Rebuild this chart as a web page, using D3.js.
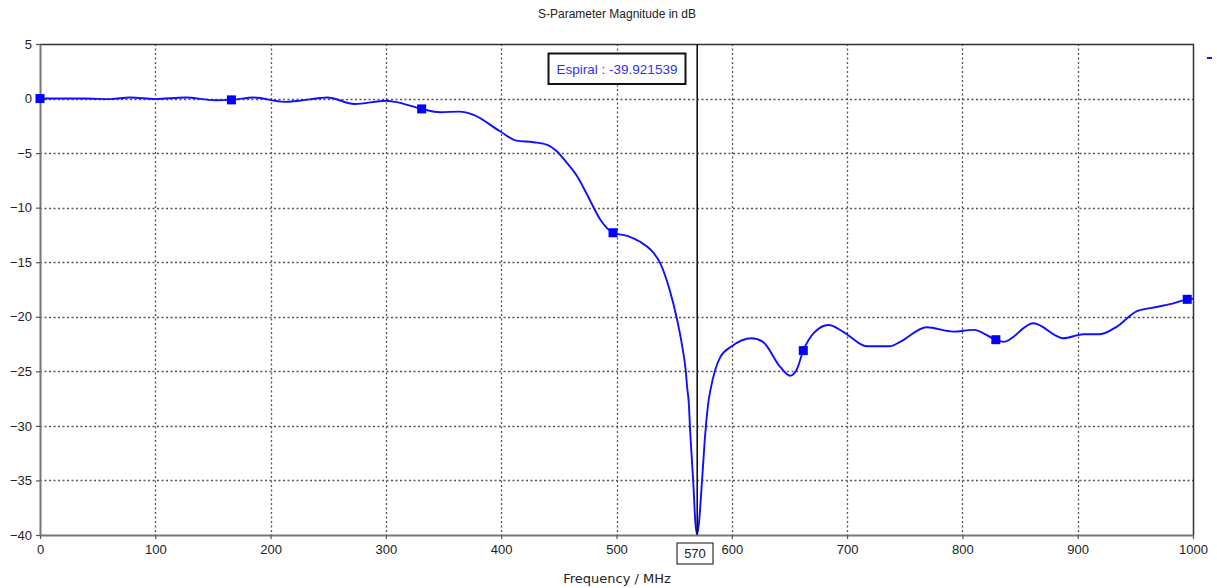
<!DOCTYPE html>
<html>
<head>
<meta charset="utf-8">
<script src="https://cdn.jsdelivr.net/npm/d3@7"></script>
<style>
  html, body { margin: 0; padding: 0; background: #fff; }
  svg { display: block; font-family: "Liberation Sans", Arial, sans-serif; }
</style>
</head>
<body>
<svg id="chart" width="1217" height="588"></svg>
<script>
// S11 magnitude of the "Espiral" port, frequency in MHz, magnitude in dB
const freqMHz = [
  0, 20, 39, 61, 78, 100, 126, 152, 167, 185, 212, 225, 243, 249, 273, 300, 308,
  331, 347, 364, 376, 399, 413, 428, 440, 448, 457, 466, 474, 486, 497,
  510, 520, 530, 538, 546, 552, 556.5, 560, 561.5, 562.5, 564, 566.6, 568.5, 570,
  571.5, 574, 577, 580, 581.5, 590, 600, 617, 627, 642, 650.5, 656, 662, 671, 684,
  697, 717, 737, 746, 769, 792, 809.5, 829, 835.5, 861.5, 887.5, 905, 919, 934,
  951, 968.5, 983, 995, 1000
];
const magDB = [
  0, 0.0, 0.0, -0.05, 0.1, -0.05, 0.1, -0.15, -0.12, 0.1, -0.3, -0.2, 0.05, 0.1, -0.5, -0.2, -0.3,
  -0.95, -1.25, -1.2, -1.5, -3.0, -3.85, -4.0, -4.25, -4.8, -5.9, -7.15, -8.7, -11.1, -12.3,
  -12.6, -13.1, -13.9, -15.1, -17.5, -20.0, -22.4, -24.9, -26.7, -27.6, -30.7, -35.2, -39.0, -39.921539,
  -38.9, -35.3, -30.7, -27.6, -26.7, -23.7, -22.7, -21.97, -22.3, -24.6, -25.4, -24.9, -23.1, -21.5, -20.75,
  -21.4, -22.7, -22.7, -22.3, -20.96, -21.36, -21.2, -22.1, -22.3, -20.6, -21.97, -21.6, -21.6, -20.9,
  -19.5, -19.1, -18.77, -18.4, -18.35
];

// square symbols placed along the trace
const symbolMHz = [0, 166, 331, 497, 662, 829, 995];
const symbolDB  = [0, -0.12, -0.95, -12.3, -23.1, -22.1, -18.4];

// axis ticks
const xTicks = [0, 100, 200, 300, 400, 500, 600, 700, 800, 900, 1000];
const yTicks = [5, 0, -5, -10, -15, -20, -25, -30, -35, -40];

// marker readout
const markerMHz = 570;
const markerDB = -39.921539;
const markerName = "Espiral";

const chartTitle = "S-Parameter Magnitude in dB";
const xTitle = "Frequency / MHz";

(function draw() {
  const svg = d3.select("#chart");
  const pL = 40, pR = 1193, pT = 44, pB = 535;

  const x = d3.scaleLinear().domain([0, 1000]).range([pL, pR]);
  const y = d3.scaleLinear().domain([-40, 5]).range([pB, pT]);

  // title
  svg.append("text")
    .attr("x", 617).attr("y", 18)
    .attr("text-anchor", "middle")
    .attr("font-size", 12).attr("fill", "#222")
    .text(chartTitle);

  // dotted grid
  const grid = svg.append("g")
    .attr("stroke", "#555").attr("stroke-width", 1.3)
    .attr("stroke-dasharray", "2,2.5");
  grid.selectAll("line.v").data(xTicks.filter(d => d > 0 && d < 1000)).join("line")
    .attr("class", "v")
    .attr("x1", d => Math.round(x(d)) + 0.5).attr("x2", d => Math.round(x(d)) + 0.5)
    .attr("y1", pT).attr("y2", pB);
  grid.selectAll("line.h").data(yTicks.filter(d => d < 5 && d > -40)).join("line")
    .attr("class", "h")
    .attr("y1", d => Math.round(y(d)) + 0.5).attr("y2", d => Math.round(y(d)) + 0.5)
    .attr("x1", pL).attr("x2", pR);

  // frame: top and right edges
  svg.append("path")
    .attr("d", `M${pL},${pT + 0.5}H${pR + 0.5}V${pB}`)
    .attr("fill", "none").attr("stroke", "#333").attr("stroke-width", 1.5);

  // axes
  const xAxis = d3.axisBottom(x).tickValues(xTicks).tickFormat(d3.format("d"))
    .tickSize(4).tickSizeOuter(0).tickPadding(6);
  const gx = svg.append("g").attr("transform", `translate(0,${pB})`).call(xAxis);
  const yAxis = d3.axisLeft(y).tickValues(yTicks).tickFormat(d3.format("d"))
    .tickSize(4).tickSizeOuter(0).tickPadding(4);
  const gy = svg.append("g").attr("transform", `translate(${pL},0)`).call(yAxis);
  [gx, gy].forEach(g => {
    g.select(".domain").attr("stroke", "#777").attr("stroke-width", 2);
    g.selectAll(".tick line").attr("stroke", "#555").attr("stroke-width", 1.2);
    g.selectAll(".tick text")
      .attr("font-family", "'Liberation Sans', Arial, sans-serif")
      .attr("font-size", 13).attr("fill", "#222");
  });

  // x axis title
  svg.append("text")
    .attr("x", 617).attr("y", 583)
    .attr("text-anchor", "middle")
    .attr("font-family", "'DejaVu Sans', sans-serif")
    .attr("font-size", 13).attr("fill", "#222")
    .text(xTitle);

  // trace
  const line = d3.line()
    .x((d, i) => x(freqMHz[i]))
    .y((d, i) => y(magDB[i]))
    .curve(d3.curveMonotoneX);
  svg.append("path")
    .datum(magDB)
    .attr("d", line)
    .attr("fill", "none")
    .attr("stroke", "#1010ff")
    .attr("stroke-width", 1.9)
    .attr("stroke-linejoin", "round");

  // square symbols
  svg.selectAll("rect.sym").data(symbolMHz).join("rect")
    .attr("class", "sym")
    .attr("x", d => x(d) - 4.5)
    .attr("y", (d, i) => y(symbolDB[i]) - 4.5)
    .attr("width", 9).attr("height", 9)
    .attr("fill", "#0000ff");

  // vertical marker line
  svg.append("line")
    .attr("x1", x(markerMHz)).attr("x2", x(markerMHz))
    .attr("y1", pT).attr("y2", pB)
    .attr("stroke", "#111").attr("stroke-width", 1.6);

  // marker readout box
  const readout = `${markerName} : ${markerDB}`;
  const rb = svg.append("g");
  rb.append("rect")
    .attr("x", 548.5).attr("y", 53.5).attr("width", 137).attr("height", 30.5)
    .attr("fill", "#fff").attr("stroke", "#111").attr("stroke-width", 2);
  rb.append("text")
    .attr("x", 617).attr("y", 73.5)
    .attr("text-anchor", "middle")
    .attr("font-size", 13.5).attr("fill", "#3030f0")
    .text(readout);

  // frequency readout box on the x axis
  const fb = svg.append("g");
  fb.append("rect")
    .attr("x", 677).attr("y", 543).attr("width", 36).attr("height", 21)
    .attr("fill", "#fff").attr("stroke", "#333").attr("stroke-width", 1.2);
  fb.append("text")
    .attr("x", 695).attr("y", 558)
    .attr("text-anchor", "middle")
    .attr("font-size", 13).attr("fill", "#222")
    .text(markerMHz);

  // legend swatch (clipped at the window edge)
  svg.append("line")
    .attr("x1", 1207).attr("x2", 1212).attr("y1", 58).attr("y2", 58)
    .attr("stroke", "#1010ff").attr("stroke-width", 2);
})();
</script>
</body>
</html>
